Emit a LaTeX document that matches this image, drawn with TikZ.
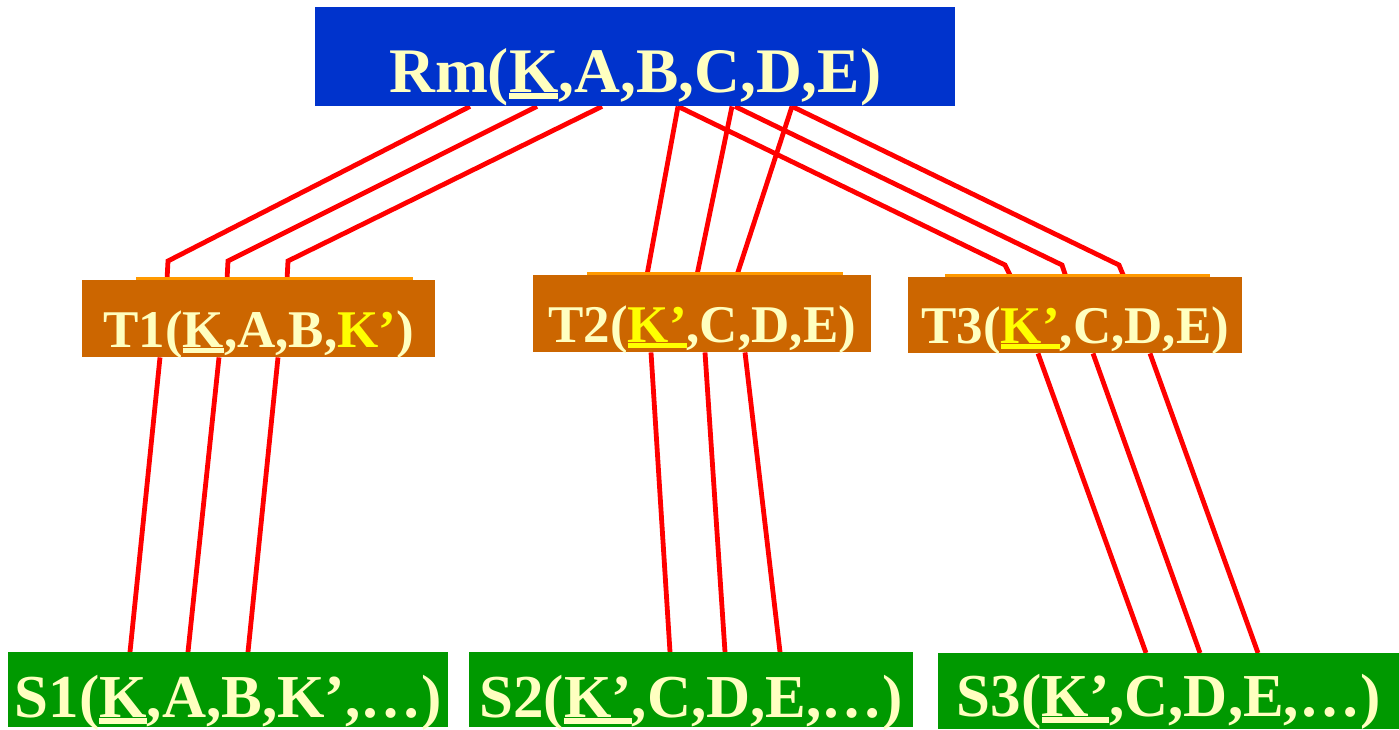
\documentclass[tikz,border=0pt]{standalone}
\usepackage{fontspec}
\setmainfont{Liberation Serif}
\pgfdeclarelayer{bg}
\pgfsetlayers{bg,main}
\definecolor{rmblue}{HTML}{0033CC}
\definecolor{torange}{HTML}{CC6600}
\definecolor{tline}{HTML}{FF9900}
\definecolor{sgreen}{HTML}{009900}
\definecolor{cream}{HTML}{FFFFC0}
\definecolor{kyel}{HTML}{FFFF00}
\definecolor{linkred}{HTML}{FF0000}
\newcommand\ulbar[1]{\setbox0\hbox{#1}\rlap{\rule[-0.11em]{\wd0}{0.1em}}\box0}
\begin{document}
\begin{tikzpicture}[x=1pt,y=-1pt,
  box/.style={inner sep=0pt, text=cream, anchor=north west},
  rmbox/.style={box, fill=rmblue, font=\bfseries\fontsize{63.5}{70}\selectfont},
  tbox/.style={box, fill=torange, font=\bfseries\fontsize{53}{60}\selectfont},
  sbox/.style={box, fill=sgreen, font=\bfseries\fontsize{61}{68}\selectfont},
  link/.style={draw=linkred, line width=4.8pt},
  strip/.style={fill=tline}]
\useasboundingbox (0,0) rectangle (1399,729);
% boxes
\node[rmbox, minimum width=640pt, text height=85pt, text depth=14pt] (Rm) at (315,7)
  {Rm(\ulbar{K},A,B,C,D,E)};
\node[tbox, minimum width=353pt, text height=67pt, text depth=10pt] (T1) at (82,280)
  {T1(\ulbar{K},A,B,{\color{kyel}K’})};
\node[tbox, minimum width=338pt, text height=67pt, text depth=10pt] (T2) at (533,275)
  {T2({\color{kyel}\ulbar{K’}},C,D,E)};
\node[tbox, minimum width=334pt, text height=66pt, text depth=10pt] (T3) at (908,277)
  {T3({\color{kyel}\ulbar{K’}},C,D,E)};
\node[sbox, minimum width=440pt, text height=65pt, text depth=10pt] (S1) at (8,652)
  {S1(\ulbar{K},A,B,K’,…)};
\node[sbox, minimum width=444pt, text height=65pt, text depth=10pt] (S2) at (469,652)
  {S2(\ulbar{K’},C,D,E,…)};
\node[sbox, minimum width=461pt, text height=63pt, text depth=13pt] (S3) at (938,653)
  {S3(\ulbar{K’},C,D,E,…)};
% light strips on top of T boxes
\fill[strip] (T1.north west) ++(54,0) rectangle ++(277,-3);
\fill[strip] (T2.north west) ++(54,0) rectangle ++(256,-3);
\fill[strip] (T3.north west) ++(37,0) rectangle ++(265,-3);
% connection points
\foreach \n/\dx in {a/155,b/222,c/287,d/363,e/417,f/420,g/477}
  \coordinate (rm\n) at ([xshift=\dx pt]Rm.south west);
\foreach \n/\dx in {a/85,b/145,c/205}
  \coordinate (t1t\n) at ([xshift=\dx pt]T1.north west);
\foreach \n/\dx in {a/78,b/137,c/196}
  \coordinate (t1b\n) at ([xshift=\dx pt]T1.south west);
\foreach \n/\dx in {a/114,b/164,c/204}
  \coordinate (t2t\n) at ([xshift=\dx pt]T2.north west);
\foreach \n/\dx in {a/118,b/172,c/212}
  \coordinate (t2b\n) at ([xshift=\dx pt]T2.south west);
\foreach \n/\dx in {a/103,b/158,c/216}
  \coordinate (t3t\n) at ([xshift=\dx pt]T3.north west);
\foreach \n/\dx in {a/130,b/185,c/242}
  \coordinate (t3b\n) at ([xshift=\dx pt]T3.south west);
\foreach \n/\dx in {a/122,b/180,c/240}
  \coordinate (s1\n) at ([xshift=\dx pt]S1.north west);
\foreach \n/\dx in {a/201,b/256,c/311}
  \coordinate (s2\n) at ([xshift=\dx pt]S2.north west);
\foreach \n/\dx in {a/208,b/262,c/320}
  \coordinate (s3\n) at ([xshift=\dx pt]S3.north west);
\coordinate (bla) at (168,261);
\coordinate (blb) at (228,261);
\coordinate (blc) at (288,261);
\coordinate (bra) at (1005,265);
\coordinate (brb) at (1062,265);
\coordinate (brc) at (1119,265);
% connectors
\begin{pgfonlayer}{bg}
\draw[link] (rma) -- (bla) -- (t1ta);
\draw[link] (rmb) -- (blb) -- (t1tb);
\draw[link] (rmc) -- (blc) -- (t1tc);
\draw[link] (rmd) -- (t2ta);
\draw[link] (rme) -- (t2tb);
\draw[link] (rmg) -- (t2tc);
\draw[link] (rmd) -- (bra) -- (t3ta);
\draw[link] (rmf) -- (brb) -- (t3tb);
\draw[link] (rmg) -- (brc) -- (t3tc);
\draw[link] (t1ba) -- (s1a);
\draw[link] (t1bb) -- (s1b);
\draw[link] (t1bc) -- (s1c);
\draw[link] (t2ba) -- (s2a);
\draw[link] (t2bb) -- (s2b);
\draw[link] (t2bc) -- (s2c);
\draw[link] (t3ba) -- (s3a);
\draw[link] (t3bb) -- (s3b);
\draw[link] (t3bc) -- (s3c);
\end{pgfonlayer}
\end{tikzpicture}
\end{document}
